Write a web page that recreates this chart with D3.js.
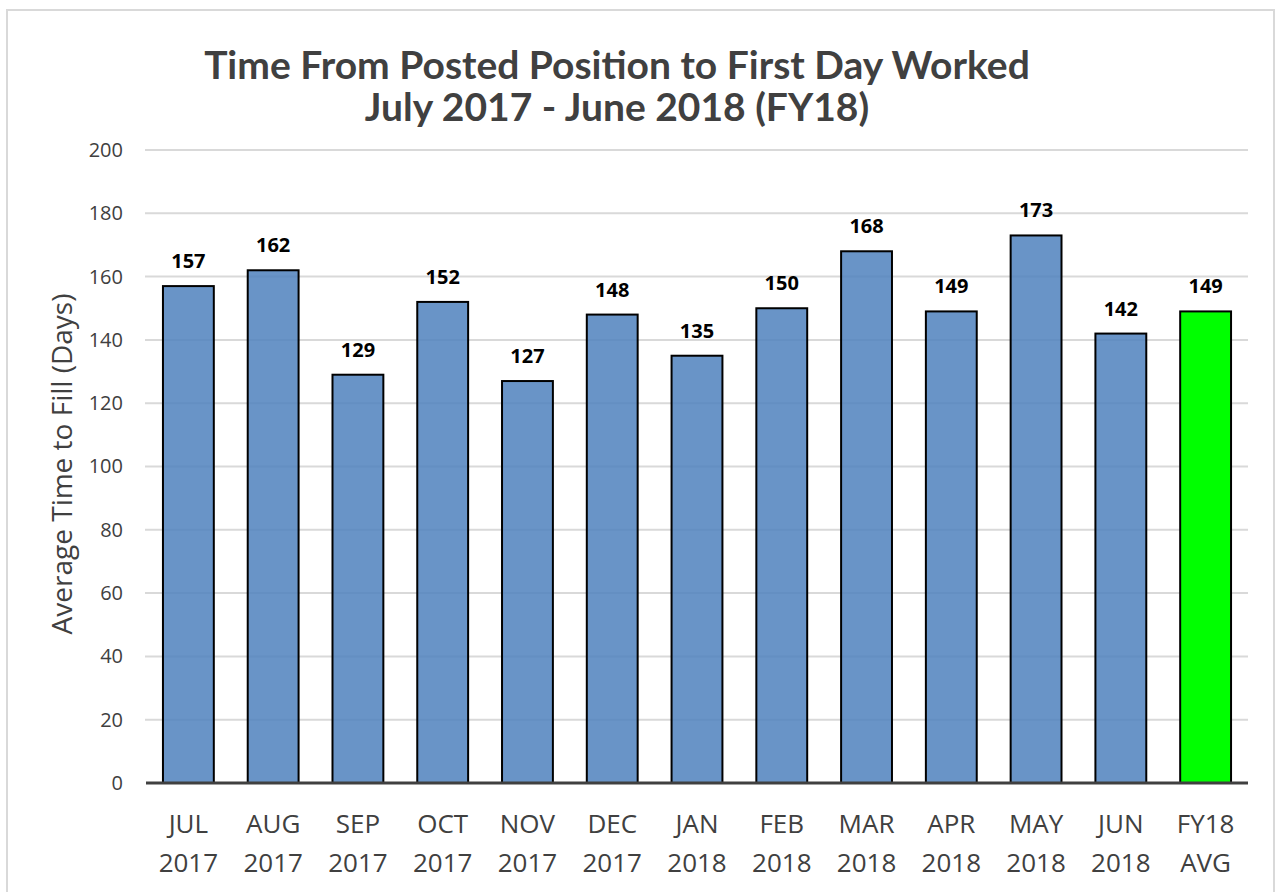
<!DOCTYPE html>
<html><head><meta charset="utf-8">
<script src="https://cdn.jsdelivr.net/npm/d3@7"></script>
<style>body{margin:0;background:#fff}svg{display:block}</style>
</head><body>
<script>
const months = ["JUL","AUG","SEP","OCT","NOV","DEC","JAN","FEB","MAR","APR","MAY","JUN","FY18"];
const years  = ["2017","2017","2017","2017","2017","2017","2018","2018","2018","2018","2018","2018","AVG"];
const values = [157,162,129,152,127,148,135,150,168,149,173,142,149];
const yTicks = [0,20,40,60,80,100,120,140,160,180,200];
const titleLines = ["Time From Posted Position to First Day Worked","July 2017 - June 2018 (FY18)"];
const yTitle = "Average Time to Fill (Days)";

const W=1276,H=892;
const svg=d3.select("body").append("svg").attr("width",W).attr("height",H);
svg.append("rect").attr("x",7).attr("y",10).attr("width",1267).attr("height",900)
  .attr("fill","#fff").attr("stroke","#d9d9d9").attr("stroke-width",2);

const x=d3.scaleBand().domain(d3.range(months.length)).range([146,1248]).paddingInner(0.4).paddingOuter(0.2);
const y=d3.scaleLinear().domain([0,200]).range([783,150]);

// gridlines
svg.append("g").selectAll("line").data(yTicks.filter(d=>d>0)).join("line")
  .attr("x1",145).attr("x2",1248).attr("y1",d=>y(d)).attr("y2",d=>y(d))
  .attr("stroke","#d9d9d9").attr("stroke-width",2);

// y axis labels
const ya=svg.append("g").attr("transform","translate(123,0)")
  .call(d3.axisLeft(y).tickValues(yTicks).tickSize(0).tickPadding(0));
ya.select(".domain").remove();
ya.selectAll("text").attr("font-family","Open Sans, sans-serif").attr("font-size",20).attr("fill","#404040");

// bars
svg.append("g").selectAll("rect").data(values).join("rect")
  .attr("x",(d,i)=>x(i)).attr("width",x.bandwidth())
  .attr("y",d=>y(d)).attr("height",d=>y(0)-y(d))
  .attr("fill",(d,i)=>i===values.length-1?"#00ff00":"#4f81bd")
  .attr("fill-opacity",(d,i)=>i===values.length-1?1:0.85)
  .attr("stroke","#000").attr("stroke-width",2);

// data labels
svg.append("g").selectAll("text").data(values).join("text")
  .attr("x",(d,i)=>x(i)+x.bandwidth()/2).attr("y",d=>y(d)-18)
  .attr("text-anchor","middle").attr("font-family","Open Sans, sans-serif")
  .attr("font-weight","bold").attr("font-size",20).attr("fill","#000").text(d=>d);

// zero axis
svg.append("line").attr("x1",146).attr("x2",1248).attr("y1",y(0)).attr("y2",y(0))
  .attr("stroke","#404040").attr("stroke-width",3);

// x labels
const xl=svg.append("g").selectAll("text").data(months).join("text")
  .attr("x",(d,i)=>x(i)+x.bandwidth()/2).attr("text-anchor","middle")
  .attr("font-family","Open Sans, sans-serif").attr("font-size",26).attr("fill","#404040");
xl.append("tspan").attr("x",(d,i)=>x(i)+x.bandwidth()/2).attr("y",833).text(d=>d);
xl.append("tspan").attr("x",(d,i)=>x(i)+x.bandwidth()/2).attr("y",872).text((d,i)=>years[i]);

// y title
svg.append("text").attr("transform","translate(72,464) rotate(-90)").attr("text-anchor","middle")
  .attr("font-family","Open Sans, sans-serif").attr("font-size",28).attr("fill","#404040").text(yTitle);

// title
svg.append("g").selectAll("text").data(titleLines).join("text")
  .attr("x",617).attr("y",(d,i)=>79+i*42).attr("text-anchor","middle")
  .attr("font-family","Lato, sans-serif").attr("font-weight","bold").attr("font-size",39)
  .attr("fill","#404040").text(d=>d);
</script>
</body></html>
